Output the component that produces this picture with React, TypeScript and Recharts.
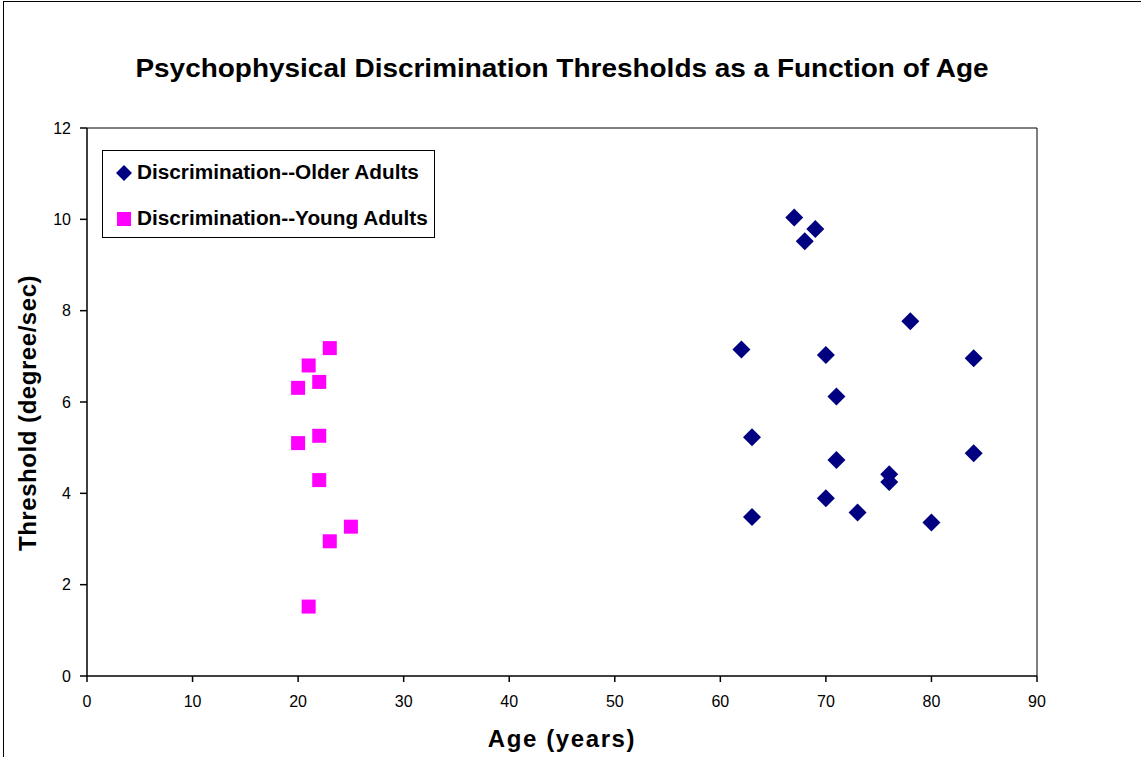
import { ScatterChart, Scatter, XAxis, YAxis, ReferenceLine } from 'recharts';

// Older adults: age, threshold
const olderAge = [67, 69, 68, 78, 62, 70, 84, 71, 63, 71, 84, 76, 76, 70, 73, 63, 80];
const olderThreshold = [10.04, 9.79, 9.52, 7.77, 7.15, 7.03, 6.96, 6.12, 5.23, 4.73, 4.88, 4.42, 4.25, 3.89, 3.58, 3.48, 3.36];

// Young adults: age, threshold
const youngAge = [23, 21, 20, 22, 22, 20, 22, 25, 23, 21];
const youngThreshold = [7.18, 6.8, 6.31, 6.44, 5.26, 5.1, 4.29, 3.27, 2.95, 1.52];

const xTicks = [0, 10, 20, 30, 40, 50, 60, 70, 80, 90];
const yTicks = [0, 2, 4, 6, 8, 10, 12];

const olderData = olderAge.map((age, i) => ({ age, threshold: olderThreshold[i] }));
const youngData = youngAge.map((age, i) => ({ age, threshold: youngThreshold[i] }));

const NAVY = '#000080';
const MAGENTA = '#FF00FF';
const FONT = '"Liberation Sans", Arial, sans-serif';

const Diamond = (props: any) => {
  const { cx, cy } = props;
  const r = 9;
  return <polygon points={`${cx},${cy - r} ${cx + r},${cy} ${cx},${cy + r} ${cx - r},${cy}`} fill={NAVY} />;
};

const Square = (props: any) => {
  const { cx, cy } = props;
  return <rect x={cx - 7} y={cy - 7} width={14} height={14} fill={MAGENTA} />;
};

// y axis title, a little below the plot's middle like the original
const YTitle = (props: any) => {
  const { viewBox } = props;
  const x = viewBox.x + 27;
  const y = viewBox.y + viewBox.height / 2 + 11;
  return (
    <text
      x={x}
      y={y}
      transform={`rotate(-90, ${x}, ${y})`}
      textAnchor="middle"
      dy="0.355em"
      fill="#000"
      fontSize={24}
      fontWeight="bold"
      fontFamily={FONT}
      style={{ letterSpacing: 0.55 }}
    >
      Threshold (degree/sec)
    </text>
  );
};

function LegendBox() {
  const row = { position: 'absolute' as const, left: 12, display: 'flex', alignItems: 'center', whiteSpace: 'nowrap' as const };
  const label = { display: 'inline-block', transform: 'scaleX(1.065)', transformOrigin: 'left center' };
  return (
    <div
      style={{
        position: 'absolute',
        left: 102,
        top: 150,
        width: 333,
        height: 88,
        boxSizing: 'border-box',
        border: '1px solid #000',
        background: '#fff',
        fontFamily: FONT,
        fontWeight: 'bold',
        fontSize: 19.5,
        color: '#000',
      }}
    >
      <div style={{ ...row, top: 10 }}>
        <svg width={18} height={18} style={{ marginRight: 4 }}>
          <polygon points="9,1 17,9 9,17 1,9" fill={NAVY} />
        </svg>
        <span style={label}>Discrimination--Older Adults</span>
      </div>
      <div style={{ ...row, top: 56 }}>
        <svg width={18} height={18} style={{ marginRight: 4 }}>
          <rect x={2} y={2} width={14} height={14} fill={MAGENTA} />
        </svg>
        <span style={label}>Discrimination--Young Adults</span>
      </div>
    </div>
  );
}

export default function App() {
  return (
    <div style={{ position: 'absolute', left: 0, top: 0, width: 1141, height: 757, overflow: 'hidden', background: '#fff' }}>
      <div
        style={{
          position: 'absolute',
          left: 3,
          top: 1,
          width: 1200,
          height: 800,
          border: '1.5px solid #000',
        }}
      />
      <div
        style={{
          position: 'absolute',
          left: 0,
          top: 54,
          width: 1124,
          textAlign: 'center',
          fontFamily: FONT,
          fontWeight: 'bold',
          fontSize: 25,
          lineHeight: 'normal',
          whiteSpace: 'nowrap',
          transform: 'scaleX(1.118)',
          transformOrigin: '562px 0',
        }}
      >
        Psychophysical Discrimination Thresholds as a Function of Age
      </div>
      <div style={{ position: 'absolute', left: 0, top: 0 }}>
        <ScatterChart width={1141} height={757} margin={{ top: 128, right: 104, bottom: 0, left: 0 }}>
          <XAxis
            type="number"
            dataKey="age"
            domain={[0, 90]}
            ticks={xTicks}
            height={81}
            stroke="#000"
            strokeWidth={1.5}
            tickSize={6}
            tick={{ fill: '#000', fontSize: 16, fontFamily: FONT }}
            tickMargin={14}
            label={{
              value: 'Age (years)',
              position: 'insideBottom',
              offset: 10,
              fill: '#000',
              fontSize: 24,
              fontWeight: 'bold',
              fontFamily: FONT,
              style: { letterSpacing: 1.6 },
            }}
          />
          <YAxis
            type="number"
            dataKey="threshold"
            domain={[0, 12]}
            ticks={yTicks}
            width={87}
            stroke="#000"
            strokeWidth={1.5}
            tickSize={7}
            tick={{ fill: '#000', fontSize: 16, fontFamily: FONT }}
            tickMargin={9}
            label={<YTitle />}
          />
          <ReferenceLine y={12} stroke="#000" />
          <ReferenceLine x={90} stroke="#000" />
          <Scatter name="Discrimination--Older Adults" data={olderData} fill={NAVY} shape={Diamond} isAnimationActive={false} />
          <Scatter name="Discrimination--Young Adults" data={youngData} fill={MAGENTA} shape={Square} isAnimationActive={false} />
        </ScatterChart>
      </div>
      <LegendBox />
    </div>
  );
}
